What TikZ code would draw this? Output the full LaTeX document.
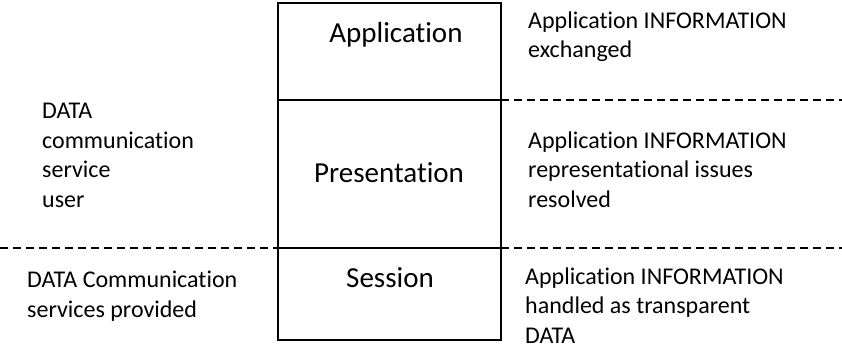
\documentclass[tikz,border=0pt]{standalone}
\usepackage{fontspec}
\setmainfont[Ligatures=NoCommon]{Carlito}
\begin{document}
\begin{tikzpicture}[x=1pt,y=-1pt,
  layerbox/.style={draw=black,line width=1.6pt},
  layertext/.style={font=\fontsize{29}{35}\selectfont,inner sep=0pt,anchor=base},
  sidetext/.style={font=\fontsize{24}{29.5}\selectfont,inner sep=0pt,align=left,anchor=base west},
  boundary/.style={draw=black,line width=1.3pt,dash pattern=on 7.5pt off 5.5pt}]
\useasboundingbox (0,0) rectangle (842,345);

% protocol stack
\coordinate (tl) at (278,3);
\coordinate (br) at (501,340);
\coordinate (d1l) at (278,100);
\coordinate (d1r) at (501,100);
\coordinate (d2l) at (278,248);
\coordinate (d2r) at (501,248);
\draw[layerbox] (tl) rectangle (br);
\draw[layerbox] (d1l) -- (d1r);
\draw[layerbox] (d2l) -- (d2r);

\node[layertext] (app) at (396,43) {Application};
\node[layertext] (pres) at (389,182) {Presentation};
\node[layertext] (sess) at (390,287) {Session};

% service boundaries
\coordinate (leftend) at (0,248);
\coordinate (rightend1) at (842,100);
\coordinate (rightend2) at (842,248);
\draw[boundary] (leftend) -- (d2l);
\draw[boundary] (d1r) -- (rightend1);
\draw[boundary] (d2r) -- (rightend2);

% side descriptions (anchored at the baseline of the last line)
\node[sidetext] (user) at (42,207) {DATA\\communication\\service\\user};
\node[sidetext] (provided) at (27,317) {DATA Communication\\services provided};
\node[sidetext] (exch) at (528,58) {Application INFORMATION\\exchanged};
\node[sidetext] (repr) at (528,207) {Application INFORMATION\\representational issues\\resolved};
\node[sidetext] (transp) at (525,343) {Application INFORMATION\\handled as transparent\\DATA};
\end{tikzpicture}
\end{document}
